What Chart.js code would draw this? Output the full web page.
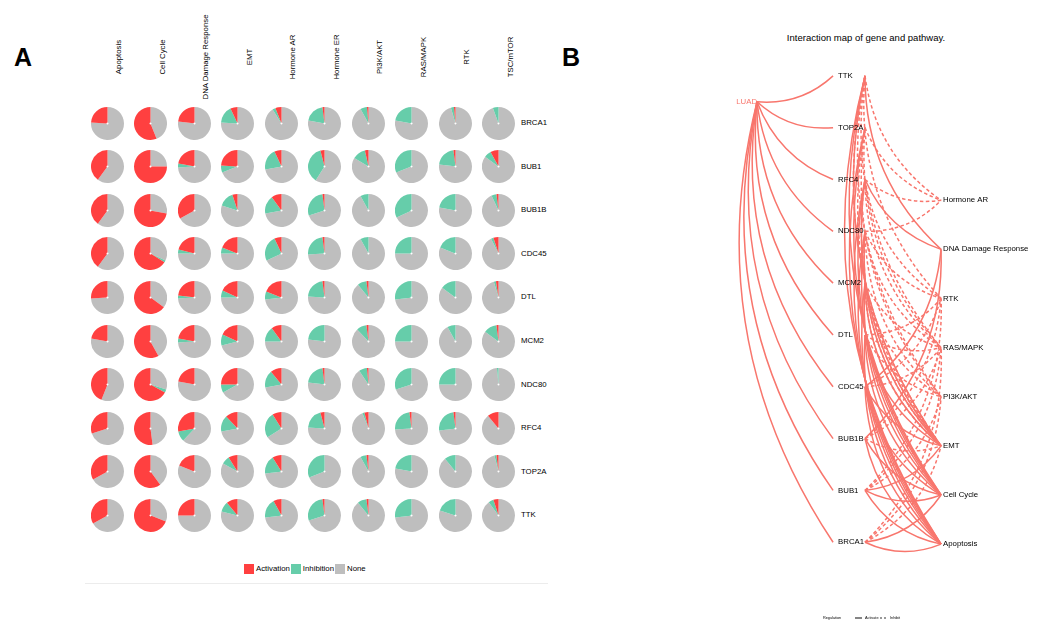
<!DOCTYPE html>
<html>
<head>
<meta charset="utf-8">
<script src="https://cdn.jsdelivr.net/npm/chart.js@4.4.0/dist/chart.umd.min.js"></script>
<style>
    html, body { margin: 0; padding: 0; background: #fff; }
    #fig { position: relative; width: 1049px; height: 621px; overflow: hidden;
           font-family: "Liberation Sans", Arial, sans-serif; color: #000; }
    .tag { position: absolute; width: 0; height: 0; }
    .tag span { position: absolute; font-weight: bold; font-size: 25px; line-height: 1;
                transform: translate(-50%, -50%); }
    .pie { position: absolute; }
    .colLab { position: absolute; width: 0; height: 0; }
    .colLab span { position: absolute; white-space: nowrap; font-size: 7.8px; line-height: 1;
                   transform: translate(-50%, -50%) rotate(-90deg); }
    .rowLab { position: absolute; font-size: 7.8px; line-height: 1; white-space: nowrap;
              transform: translateY(-50%); }
    #legendA { position: absolute; left: 244px; top: 564px; display: flex; align-items: center;
               font-size: 7.8px; line-height: 10px; color: #000; }
    #legendA i { display: inline-block; width: 10px; height: 10px; margin-right: 2px; }
    #legendA b { font-weight: normal; margin-right: 1px; }
    #baseA { position: absolute; left: 85px; top: 583px; width: 463px; height: 1px; background: #ececec; }
    #titleB { position: absolute; left: 866px; top: 38px; width: 0; height: 0; }
    #titleB span { position: absolute; white-space: nowrap; font-size: 9.5px; line-height: 1;
                   transform: translate(-50%, -50%); }
    #network { position: absolute; left: 719px; top: 24px; }
</style>
</head>
<body>
<div id="fig">
    <div class="tag" style="left:23px;top:57px"><span>A</span></div>
    <div class="tag" style="left:571px;top:57px"><span>B</span></div>
    <div id="legendA">
        <i style="background:#FF4040"></i><b>Activation</b>
        <i style="background:#66CDAA"></i><b>Inhibition</b>
        <i style="background:#BEBEBE"></i><b>None</b>
    </div>
    <div id="baseA"></div>
    <div id="titleB"><span>Interaction map of gene and pathway.</span></div>
    <canvas id="network" width="327" height="596"></canvas>
</div>

<script>
// ---- panel A: share of samples per gene/pathway ----
const genes = ['BRCA1', 'BUB1', 'BUB1B', 'CDC45', 'DTL', 'MCM2', 'NDC80', 'RFC4', 'TOP2A', 'TTK'];
const pathways = ['Apoptosis', 'Cell Cycle', 'DNA Damage Response', 'EMT', 'Hormone AR',
                  'Hormone ER', 'PI3K/AKT', 'RAS/MAPK', 'RTK', 'TSC/mTOR'];

// rows follow genes, columns follow pathways
const activation = [
    [0.24, 0.56, 0.23, 0.07, 0.06, 0.02, 0.015, 0,    0.015, 0],
    [0.40, 0.75, 0.22, 0.24, 0.07, 0.04, 0.035, 0,    0.02,  0.08],
    [0.40, 0.72, 0.33, 0.05, 0.10, 0.02, 0,     0,    0,     0.02],
    [0.40, 0.66, 0.21, 0.19, 0.07, 0.02, 0,     0,    0,     0.05],
    [0.26, 0.65, 0.23, 0.18, 0.19, 0.02, 0.02,  0,    0,     0.025],
    [0.22, 0.58, 0.22, 0.18, 0.10, 0,    0.02,  0,    0,     0.02],
    [0.44, 0.67, 0.22, 0.25, 0.11, 0.02, 0.015, 0,    0,     0],
    [0.30, 0.52, 0.28, 0.12, 0.09, 0.04, 0.04,  0.02, 0.02,  0.11],
    [0.33, 0.60, 0.19, 0.09, 0.09, 0,    0.02,  0,    0,     0.02],
    [0.33, 0.69, 0.25, 0.11, 0.08, 0.02, 0.02,  0,    0,     0.05]
];
const inhibition = [
    [0, 0,    0,    0.17, 0.03, 0.20, 0.065, 0.22, 0.03, 0.055],
    [0, 0,    0.04, 0.07, 0.21, 0.37, 0.13,  0.31, 0.21, 0.07],
    [0, 0,    0,    0.15, 0.18, 0.28, 0.08,  0.32, 0.22, 0.05],
    [0, 0.02, 0.04, 0.06, 0.25, 0.24, 0.08,  0.25, 0.19, 0.025],
    [0, 0,    0.03, 0.07, 0.08, 0.22, 0.09,  0.27, 0.15, 0.02],
    [0, 0,    0.04, 0.11, 0.15, 0.23, 0.10,  0.25, 0.08, 0.13],
    [0, 0.03, 0,    0.08, 0.17, 0.21, 0.08,  0.30, 0.25, 0.015],
    [0, 0,    0.10, 0.16, 0.25, 0.20, 0.02,  0.24, 0.25, 0],
    [0, 0,    0,    0.08, 0.18, 0.31, 0.06,  0.22, 0.11, 0.02],
    [0, 0,    0,    0.10, 0.19, 0.28, 0.09,  0.27, 0.20, 0.05]
];

const RED = '#FF4040', GREEN = '#66CDAA', GREY = '#BEBEBE';

// ---- panel B: regulation network ----
const netGenes = ['TTK', 'TOP2A', 'RFC4', 'NDC80', 'MCM2', 'DTL', 'CDC45', 'BUB1B', 'BUB1', 'BRCA1'];
const netPathways = ['Hormone AR', 'DNA Damage Response', 'RTK', 'RAS/MAPK', 'PI3K/AKT',
                     'EMT', 'Cell Cycle', 'Apoptosis'];

const activateEdges = [
    ['TTK', 'Apoptosis'], ['TOP2A', 'Apoptosis'], ['RFC4', 'Apoptosis'], ['NDC80', 'Apoptosis'],
    ['MCM2', 'Apoptosis'], ['DTL', 'Apoptosis'], ['CDC45', 'Apoptosis'], ['BUB1B', 'Apoptosis'],
    ['BUB1', 'Apoptosis'], ['BRCA1', 'Apoptosis'],
    ['TTK', 'Cell Cycle'], ['TOP2A', 'Cell Cycle'], ['RFC4', 'Cell Cycle'], ['NDC80', 'Cell Cycle'],
    ['MCM2', 'Cell Cycle'], ['DTL', 'Cell Cycle'], ['CDC45', 'Cell Cycle'], ['BUB1B', 'Cell Cycle'],
    ['BUB1', 'Cell Cycle'], ['BRCA1', 'Cell Cycle'],
    ['TTK', 'EMT'], ['RFC4', 'EMT'], ['NDC80', 'EMT'], ['MCM2', 'EMT'], ['DTL', 'EMT'],
    ['CDC45', 'EMT'], ['BUB1', 'EMT'],
    ['TTK', 'DNA Damage Response'], ['RFC4', 'DNA Damage Response'],
    ['CDC45', 'DNA Damage Response'], ['BUB1B', 'DNA Damage Response']
];
const inhibitEdges = [
    ['TTK', 'Hormone AR'], ['TOP2A', 'Hormone AR'], ['RFC4', 'Hormone AR'], ['NDC80', 'Hormone AR'],
    ['TTK', 'RTK'], ['RFC4', 'RTK'], ['NDC80', 'RTK'], ['DTL', 'RTK'], ['CDC45', 'RTK'],
    ['BUB1B', 'RTK'], ['BUB1', 'RTK'],
    ['TTK', 'RAS/MAPK'], ['TOP2A', 'RAS/MAPK'], ['RFC4', 'RAS/MAPK'], ['NDC80', 'RAS/MAPK'],
    ['MCM2', 'RAS/MAPK'], ['DTL', 'RAS/MAPK'], ['CDC45', 'RAS/MAPK'], ['BUB1B', 'RAS/MAPK'],
    ['BUB1', 'RAS/MAPK'], ['BRCA1', 'RAS/MAPK'],
    ['TTK', 'PI3K/AKT'], ['TOP2A', 'PI3K/AKT'], ['NDC80', 'PI3K/AKT'], ['MCM2', 'PI3K/AKT'],
    ['DTL', 'PI3K/AKT'], ['BUB1', 'PI3K/AKT'], ['BRCA1', 'PI3K/AKT'],
    ['TTK', 'EMT'], ['TOP2A', 'EMT'], ['RFC4', 'EMT'], ['NDC80', 'EMT'], ['MCM2', 'EMT'],
    ['BUB1B', 'EMT'], ['BRCA1', 'EMT']
];

const EDGE = '#F8766D';
const FONT = '"Liberation Sans", Arial, sans-serif';

// grid of small pies
const fig = document.getElementById('fig');
const colX = c => 107 + c * 43.5;
const rowY = r => 123 + r * 43.6;
const PIE = 33;

pathways.forEach((p, c) => {
    const lab = document.createElement('div');
    lab.className = 'colLab';
    lab.style.left = (colX(c) + 12) + 'px';
    lab.style.top = '57px';
    lab.innerHTML = '<span>' + p + '</span>';
    fig.appendChild(lab);
});

genes.forEach((g, r) => {
    const lab = document.createElement('div');
    lab.className = 'rowLab';
    lab.style.left = '521px';
    lab.style.top = rowY(r) + 'px';
    lab.textContent = g;
    fig.appendChild(lab);

    pathways.forEach((p, c) => {
        const act = activation[r][c];
        const inh = inhibition[r][c];
        const cv = document.createElement('canvas');
        cv.className = 'pie';
        cv.width = PIE;
        cv.height = PIE;
        cv.style.left = Math.round(colX(c) - PIE / 2) + 'px';
        cv.style.top = Math.round(rowY(r) - PIE / 2) + 'px';
        fig.appendChild(cv);

        // clockwise from 12 o'clock, so activation sits just left of the top
        new Chart(cv, {
            type: 'doughnut',
            data: {
                labels: ['None', 'Inhibition', 'Activation'],
                datasets: [{
                    data: [1 - act - inh, inh, act],
                    backgroundColor: [GREY, GREEN, RED],
                    borderWidth: 0
                }]
            },
            options: {
                responsive: false,
                animation: false,
                events: [],
                cutout: 1,
                plugins: { legend: { display: false }, tooltip: { enabled: false } }
            }
        });
    });
});

// node layout: LUAD -> genes -> pathways
const GENE_OUT = 1.42;
const PATH_X = 2.42;
const luadNode = { x: 0, y: 0.5 };
const geneNode = i => ({ x: 1, y: i });
const geneOut = i => ({ x: GENE_OUT, y: i });
const pathNode = j => ({ x: PATH_X, y: 2.4 + j * 0.948 });

const networkPlugin = {
    id: 'network',
    beforeDatasetsDraw(chart) {
        const { ctx, scales: { x, y } } = chart;
        const px = p => [x.getPixelForValue(p.x), y.getPixelForValue(p.y)];
        const bend = 0.22;

        const arc = (a, b, dashed) => {
            const [x0, y0] = px(a);
            const [x1, y1] = px(b);
            const dx = x1 - x0, dy = y1 - y0;
            const cx = (x0 + x1) / 2 - dy * bend;
            const cy = (y0 + y1) / 2 + dx * bend;
            ctx.setLineDash(dashed ? [3.5, 2.5] : []);
            ctx.beginPath();
            ctx.moveTo(x0, y0);
            ctx.quadraticCurveTo(cx, cy, x1, y1);
            ctx.stroke();
        };

        ctx.save();
        ctx.strokeStyle = EDGE;
        ctx.lineWidth = 1.5;
        netGenes.forEach((g, i) => arc(luadNode, geneNode(i), false));
        activateEdges.forEach(([g, p]) =>
            arc(geneOut(netGenes.indexOf(g)), pathNode(netPathways.indexOf(p)), false));
        inhibitEdges.forEach(([g, p]) =>
            arc(geneOut(netGenes.indexOf(g)), pathNode(netPathways.indexOf(p)), true));
        ctx.restore();
    },
    afterDatasetsDraw(chart) {
        const { ctx, scales: { x, y } } = chart;
        ctx.save();
        ctx.font = '7.8px ' + FONT;
        ctx.textBaseline = 'middle';

        ctx.fillStyle = EDGE;
        ctx.textAlign = 'right';
        ctx.fillText('LUAD', x.getPixelForValue(luadNode.x), y.getPixelForValue(luadNode.y));

        ctx.fillStyle = '#000';
        ctx.textAlign = 'left';
        netGenes.forEach((g, i) => {
            const n = geneNode(i);
            ctx.fillText(g, x.getPixelForValue(n.x) + 5, y.getPixelForValue(n.y));
        });
        netPathways.forEach((p, j) => {
            const n = pathNode(j);
            ctx.fillText(p, x.getPixelForValue(n.x) + 2, y.getPixelForValue(n.y));
        });

        // regulation key along the bottom
        const ky = chart.height - 2;
        ctx.font = '3.8px ' + FONT;
        ctx.fillText('Regulation', 104, ky);
        ctx.fillText('Activate', 146, ky);
        ctx.fillText('Inhibit', 171, ky);
        ctx.strokeStyle = '#333';
        ctx.lineWidth = 1.2;
        ctx.beginPath(); ctx.moveTo(136, ky); ctx.lineTo(143, ky); ctx.stroke();
        ctx.setLineDash([2, 2]);
        ctx.beginPath(); ctx.moveTo(161, ky); ctx.lineTo(169, ky); ctx.stroke();
        ctx.restore();
    }
};

new Chart(document.getElementById('network'), {
    type: 'scatter',
    data: {
        datasets: [
            { label: 'LUAD', data: [luadNode], pointRadius: 0 },
            { label: 'genes', data: netGenes.map((g, i) => geneNode(i)), pointRadius: 0 },
            { label: 'pathways', data: netPathways.map((p, j) => pathNode(j)), pointRadius: 0 }
        ]
    },
    options: {
        responsive: false,
        animation: false,
        events: [],
        layout: { padding: 0 },
        scales: {
            x: { type: 'linear', min: -0.5, max: 3.8, display: false },
            y: { type: 'linear', min: -1, max: 10.5, reverse: true, display: false }
        },
        plugins: { legend: { display: false }, tooltip: { enabled: false } }
    },
    plugins: [networkPlugin]
});
</script>
</body>
</html>
